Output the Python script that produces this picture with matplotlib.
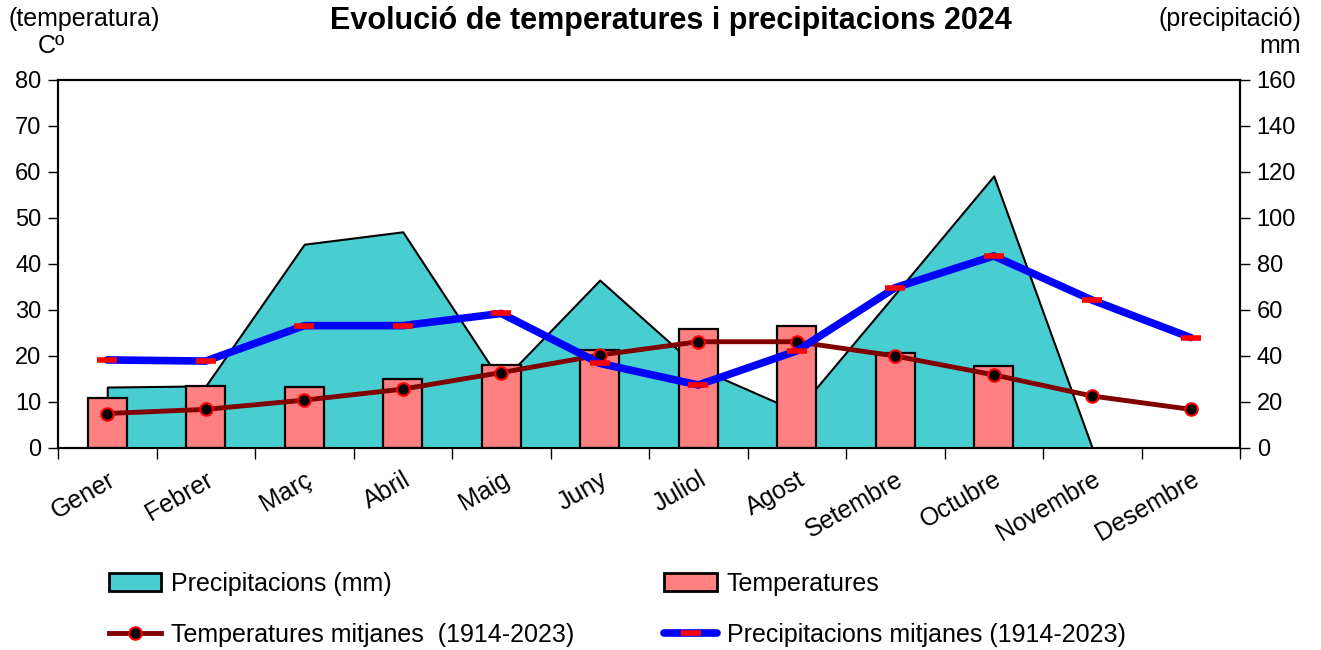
import matplotlib
matplotlib.use("Agg")
import matplotlib.pyplot as plt
from matplotlib.patches import Patch
from matplotlib.lines import Line2D

plt.rcParams['font.family'] = ['Liberation Sans', 'DejaVu Sans']

# Data
mesos = ['Gener', 'Febrer', 'Març', 'Abril', 'Maig', 'Juny', 'Juliol',
         'Agost', 'Setembre', 'Octubre', 'Novembre', 'Desembre']
precip_2024 = [26.5, 27.0, 88.6, 94.0, 28.7, 73.0, 34.8, 16.0, 67.0, 118.3, 0.0]  # fins a novembre
temp_2024 = [10.8, 13.4, 13.2, 14.9, 18.0, 21.2, 25.8, 26.5, 20.6, 17.8]  # fins a octubre
temp_mitjana = [7.5, 8.4, 10.4, 12.8, 16.4, 20.2, 23.1, 23.1, 20.0, 15.9, 11.3, 8.4]
precip_mitjana = [38.3, 37.8, 53.2, 53.2, 58.5, 36.8, 27.4, 42.2, 69.7, 83.5, 64.3, 48.0]

x_all = list(range(len(mesos)))

fig = plt.figure(figsize=(13.21, 6.5), dpi=100)
ax = fig.add_axes([58/1321, 1-448/650, (1240-58)/1321, (448-80)/650])
ax2 = ax.twinx()

# ax2 only gives the right scale; ax draws everything
ax.set_zorder(ax2.get_zorder() + 1)
ax.patch.set_visible(False)
ax2.patch.set_facecolor('#FFFFCC')

ax.set_xlim(-0.5, 11.5)
ax.set_ylim(0, 80)
ax2.set_ylim(0, 160)

# precipitation area (right scale)
xp = x_all[:len(precip_2024)]
ax.fill_between(xp, 0, precip_2024, transform=ax2.transData,
                facecolor='#48CDD1', edgecolor='black', linewidth=1.5, zorder=1)

# temperature bars
xt = x_all[:len(temp_2024)]
ax.bar(xt, temp_2024, width=0.4, color='#FF8080', edgecolor='black',
       linewidth=1.6, zorder=2)

# mean temperature
ax.plot(x_all, temp_mitjana, color='#800000', linewidth=3.5, marker='o',
        markersize=9, markerfacecolor='black', markeredgecolor='red',
        markeredgewidth=1.5, zorder=3)

# mean precipitation (right scale)
ax.plot(x_all, precip_mitjana, transform=ax2.transData, color='#0000FF',
        linewidth=5.5, marker='_', markersize=14, markeredgecolor='red',
        markeredgewidth=4, solid_capstyle='round', zorder=4)

# ticks
ax.set_xticks(x_all)
ax.set_xticklabels(mesos, rotation=30, ha='right', rotation_mode='anchor', fontsize=18)
ax.set_xticks([i - 0.5 for i in range(13)], minor=True)
ax.tick_params(axis='x', which='major', length=0, pad=14)
ax.tick_params(axis='x', which='minor', length=8, width=1, direction='out')
ax.set_yticks(range(0, 81, 10))
ax.tick_params(axis='y', length=7, width=1, labelsize=17, pad=5)
ax2.set_yticks(range(0, 161, 20))
ax2.tick_params(axis='y', length=7, width=1, labelsize=17, pad=5)

for a in (ax, ax2):
    for s in a.spines.values():
        s.set_linewidth(1.5)
        s.set_color('black')

fig.text(0.508, 1-21/650, 'Evolució de temperatures i precipitacions 2024',
         ha='center', va='center', fontsize=22, fontweight='bold')
fig.text(8/1321, 1-19/650, '(temperatura)', ha='left', va='center', fontsize=18)
fig.text(38/1321, 1-46/650, 'Cº', ha='left', va='center', fontsize=18)
fig.text(1301/1321, 1-19/650, '(precipitació)', ha='right', va='center', fontsize=18)
fig.text(1301/1321, 1-46/650, 'mm', ha='right', va='center', fontsize=18)

handles = [
    Patch(facecolor='#48CDD1', edgecolor='black', linewidth=2),
    Line2D([], [], color='#800000', linewidth=3.5, marker='o', markersize=9,
           markerfacecolor='black', markeredgecolor='red', markeredgewidth=1.5),
    Patch(facecolor='#FF8080', edgecolor='black', linewidth=2),
    Line2D([], [], color='#0000FF', linewidth=5.5, marker='_', markersize=14,
           markeredgecolor='red', markeredgewidth=4, solid_capstyle='round'),
]
labels = ['Precipitacions (mm)', 'Temperatures mitjanes  (1914-2023)',
          'Temperatures', 'Precipitacions mitjanes (1914-2023)']
fig.legend(handles, labels, ncol=2, loc='upper left',
           bbox_to_anchor=(86/1321, 1-549/650), frameon=False, fontsize=18,
           handlelength=2.1, handleheight=0.7, handletextpad=0.4,
           columnspacing=3.6, labelspacing=1.1)

fig.savefig('out.png', dpi=100)
